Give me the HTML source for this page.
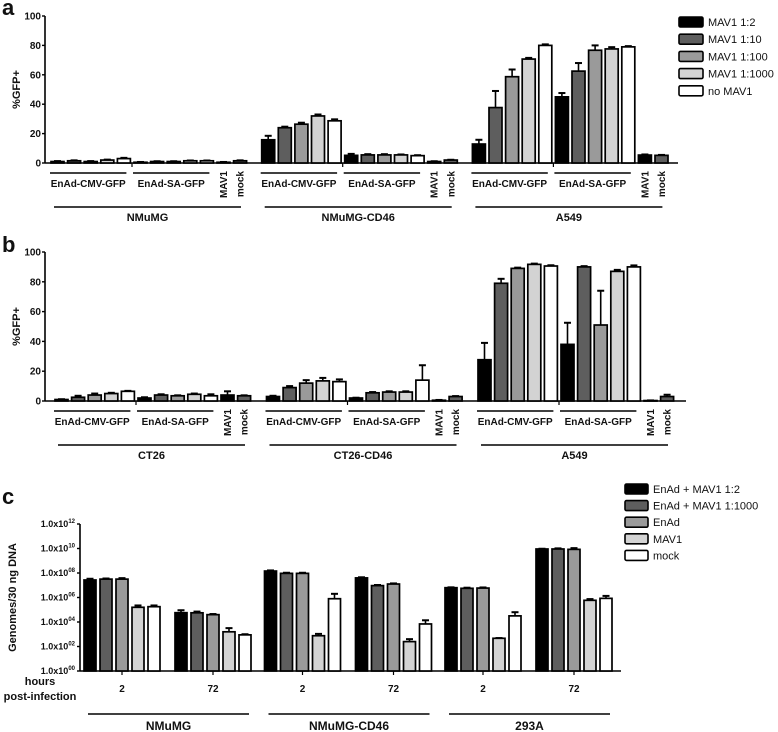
<!DOCTYPE html>
<html><head><meta charset="utf-8"><style>
html,body{margin:0;padding:0;background:#fff;}
svg{display:block;font-family:"Liberation Sans",Arial,sans-serif;}
.t{font-weight:bold;font-size:10px;fill:#111;}
</style></head><body>
<svg id="fig" width="778" height="732" viewBox="0 0 778 732" xmlns="http://www.w3.org/2000/svg"></svg>
<script>
const NS='http://www.w3.org/2000/svg';
const fig=document.getElementById('fig');
const colors=['#000000','#5e5e5e','#9a9a9a','#d3d3d3','#ffffff'];
const abSeries=['MAV1 1:2','MAV1 1:10','MAV1 1:100','MAV1 1:1000','no MAV1'];
const aCells=['NMuMG','NMuMG-CD46','A549'];
const aValues=[
 [1,1.5,1,2,3, 0.5,1,1,1.5,1.5, 0.5,1.5],
 [15.8,24,26.4,32,28.7, 5.2,5.5,5.5,5.5,5, 1,2],
 [12.9,37.7,58.7,70.7,80, 45,62.5,76.7,77.6,79, 5.4,5.2]];
const aErrors=[
 [0.3,0.3,0.3,0.3,0.5, 0.2,0.2,0.2,0.2,0.2, 0.2,0.3],
 [2.7,0.7,1,1,1, 1,0.5,0.5,0.3,0.3, 0.2,0.2],
 [2.9,11.3,4.9,0.8,0.7, 2.6,5.5,3.3,1.2,0.5, 0.4,0.3]];
const bCells=['CT26','CT26-CD46','A549'];
const bValues=[
 [1,2.5,4,5,6.5, 2,4,3.5,4.5,3.5, 4,3.5],
 [3,9,12,13.5,13, 2,5.5,6,6,14, 0.5,3],
 [27.7,79,89,91.7,90.6, 38,90,51,87,90, 0.3,3]];
const bErrors=[
 [0.2,1,1,0.5,0.3, 0.5,0.5,0.3,0.5,1, 2.5,0.3],
 [0.5,1,2,2,1.5, 0.2,0.5,0.5,0.5,10, 0.2,0.3],
 [11.3,3,0.5,0.5,0.5, 14.5,0.5,23,1,1, 0.1,1.2]];
const pctTicks=[0,20,40,60,80,100];
const cSeries=['EnAd + MAV1 1:2','EnAd + MAV1 1:1000','EnAd','MAV1','mock'];
const cCells=['NMuMG','NMuMG-CD46','293A'];
const cTimes=['2','72'];
const cLogValues=[
 [[7.43,7.5,7.5,5.2,5.25],[4.76,4.75,4.6,3.2,2.95]],
 [[8.16,7.97,7.97,2.88,5.9],[7.6,6.97,7.1,2.4,3.84]],
 [[6.8,6.75,6.77,2.67,4.5],[9.96,9.96,9.93,5.77,5.93]]];
const cLogErrors=[
 [[0.1,0.05,0.08,0.15,0.1],[0.2,0.1,0.05,0.3,0.05]],
 [[0.05,0.05,0.05,0.15,0.4],[0.05,0.05,0.05,0.2,0.3]],
 [[0.03,0.05,0.05,0.02,0.3],[0.02,0.05,0.1,0.1,0.2]]];
const cTickExps=[0,2,4,6,8,10,12];

function mk(tag,attrs,parent){const e=document.createElementNS(NS,tag);for(const k in attrs)e.setAttribute(k,attrs[k]);(parent||fig).appendChild(e);return e;}
function txt(x,y,s,attrs,parent){const e=mk('text',Object.assign({x:x,y:y,class:'t'},attrs||{}),parent);e.textContent=s;return e;}

function bar(g,x,w,yTop,yBase,yErr,color){
  const ln=mk('line',{x1:x+w/2,x2:x+w/2,y1:yTop,y2:yErr,stroke:'#000','stroke-width':1.6},g);
  
  
  const cap=mk('line',{x1:x+w/2-3.5,x2:x+w/2+3.5,y1:yErr,y2:yErr,stroke:'#000','stroke-width':2},g);
  
  
  const r=mk('rect',{x:x,y:yTop,width:w,height:Math.max(yBase-yTop,0.5),fill:color,stroke:'#000','stroke-width':1.7},g);
  
  
}

function legend(names,x0,y0,step,w,fs){
  const g=mk('g',{});
  
  
  names.forEach((n,i)=>{
    const y=y0+i*step;
    const r=mk('rect',{x:x0,y:y-5,width:w,height:10,fill:colors[i],stroke:'#000','stroke-width':1.6,rx:1.5},g);
    
    
    const t=txt(x0+w+5,y+4,n,{style:'font-weight:normal;font-size:'+fs+'px'},g);
    
    
  });
}

function pctPanel(opt){
  const {letter,cells,values,errors,y0,y100,xStart,blockW,axisEnd,letterY}=opt;
  const g=mk('g',{});
  
  
  const yS=v=>y0-(y0-y100)*v/100;
  const L=txt(2,letterY,letter,{style:'font-size:22px;font-weight:bold'},g);
  
  
  const ax=45;
  mk('line',{x1:ax,x2:ax,y1:y100,y2:y0,stroke:'#000','stroke-width':1.6},g);
  const xa=mk('line',{x1:ax,x2:axisEnd,y1:y0,y2:y0,stroke:'#000','stroke-width':1.6},g);
  
  
  pctTicks.forEach(t=>{
    mk('line',{x1:ax-3,x2:ax,y1:yS(t),y2:yS(t),stroke:'#000','stroke-width':1.4},g);
    const tl=txt(ax-4,yS(t)+3.5,String(t),{'text-anchor':'end'},g);
    
    
  });
  const yt=txt(0,0,'%GFP+',{transform:'translate(20,'+((y0+y100)/2)+') rotate(-90)','text-anchor':'middle',style:'font-size:11px;font-weight:bold'},g);
  
  
  const step=16.6,bw=13;
  cells.forEach((c,ci)=>{
    const bs=xStart+ci*blockW;
    values[ci].forEach((v,i)=>{
      const x=bs+i*step;
      bar(g,x,bw,yS(v),y0,yS(v+errors[ci][i]),colors[i%5]);
    });
    [['EnAd-CMV-GFP',0],['EnAd-SA-GFP',5]].forEach(([s,k])=>{
      const x1=bs+k*step-1,x2=bs+(k+4)*step+bw-4;
      mk('line',{x1:x1,x2:x2,y1:y0+10,y2:y0+10,stroke:'#000','stroke-width':1.6},g);
      const t=txt((x1+x2)/2,y0+24,s,{'text-anchor':'middle'},g);
      
      
    });
    mk('line',{x1:bs+5*step-2,x2:bs+5*step-2,y1:y0,y2:y0+4,stroke:'#000','stroke-width':1.2},g);
    [['MAV1',10],['mock',11]].forEach(([s,k])=>{
      const cx=bs+k*step+bw/2+3.5;
      const t=txt(0,0,s,{transform:'translate('+cx+','+(y0+8)+') rotate(-90)','text-anchor':'end'},g);
      
      
    });
    const cx1=bs+3,cx2=bs+190;
    mk('line',{x1:cx1,x2:cx2,y1:y0+44,y2:y0+44,stroke:'#000','stroke-width':1.6},g);
    const ct=txt((cx1+cx2)/2,y0+58,c,{'text-anchor':'middle',style:'font-size:11px;font-weight:bold'},g);
    
    
  });
}

pctPanel({letter:'a',cells:aCells,values:aValues,errors:aErrors,y0:163,y100:16,xStart:51,blockW:210.7,axisEnd:678,letterY:15});
pctPanel({letter:'b',cells:bCells,values:bValues,errors:bErrors,y0:401,y100:252,xStart:55,blockW:211.5,axisEnd:686,letterY:252});
legend(abSeries,679,22,17.2,24,11);

(function(){
  const g=mk('g',{});
  
  
  const y0=671,yTop=524,ax=80,axisEnd=621;
  const yS=e=>y0-(y0-yTop)*e/12;
  const L=txt(2,504,'c',{style:'font-size:22px;font-weight:bold'},g);
  
  
  mk('line',{x1:ax,x2:ax,y1:yTop,y2:y0,stroke:'#000','stroke-width':1.6},g);
  const xa=mk('line',{x1:ax,x2:axisEnd,y1:y0,y2:y0,stroke:'#000','stroke-width':1.6},g);
  
  
  cTickExps.forEach(e=>{
    mk('line',{x1:ax-3,x2:ax,y1:yS(e),y2:yS(e),stroke:'#000','stroke-width':1.4},g);
    const t=mk('text',{x:ax-5,y:yS(e)+3,class:'t','text-anchor':'end',style:'font-size:9px'},g);
    
    
    const a=mk('tspan',{},t); a.textContent='1.0x10';
    const b=mk('tspan',{dy:-4,style:'font-size:6px'},t); b.textContent=(e<10?'0':'')+e;
  });
  const yt=txt(0,0,'Genomes/30 ng DNA',{transform:'translate(16,'+((y0+yTop)/2)+') rotate(-90)','text-anchor':'middle',style:'font-size:11px;font-weight:bold'},g);
  
  
  const h1=txt(40,685,'hours',{'text-anchor':'middle',style:'font-size:11px;font-weight:bold'},g);
  
  
  const h2=txt(40,700,'post-infection',{'text-anchor':'middle',style:'font-size:11px;font-weight:bold'},g);
  
  
  const step=16,bw=12,blockW=180.5,groupOff=91;
  cCells.forEach((c,ci)=>{
    const bs=84+ci*blockW;
    cTimes.forEach((tm,ti)=>{
      const gs=bs+ti*groupOff;
      cLogValues[ci][ti].forEach((v,i)=>{
        const x=gs+i*step;
        bar(g,x,bw,yS(v),y0,yS(v+cLogErrors[ci][ti][i]),colors[i]);
      });
      const cx=gs+(4*step+bw)/2;
      mk('line',{x1:cx,x2:cx,y1:y0,y2:y0+4,stroke:'#000','stroke-width':1.2},g);
      const t=txt(cx,692,tm,{'text-anchor':'middle'},g);
      
      
    });
    const x1=bs+4,x2=bs+165;
    mk('line',{x1:x1,x2:x2,y1:714,y2:714,stroke:'#000','stroke-width':1.6},g);
    const ct=txt((x1+x2)/2,730,c,{'text-anchor':'middle',style:'font-size:12px;font-weight:bold'},g);
    
    
  });
})();
legend(cSeries,625,489,16.6,23,11);
</script>
</body></html>
